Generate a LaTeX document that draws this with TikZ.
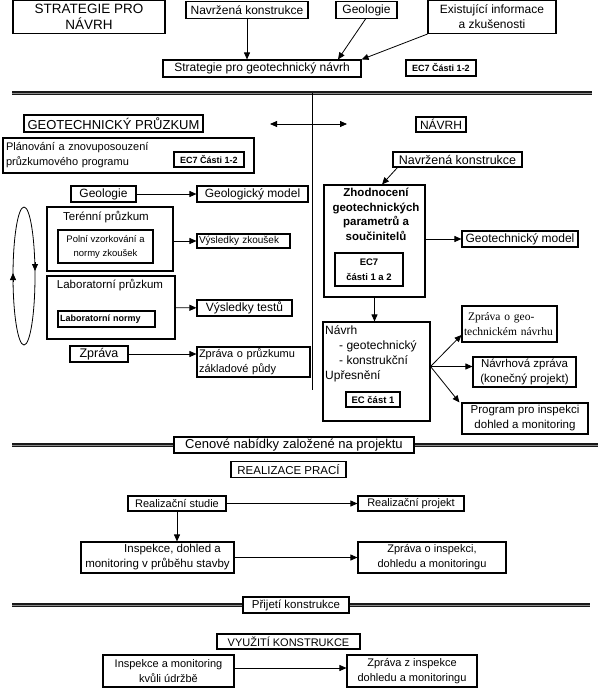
\documentclass[tikz,border=0pt]{standalone}
\usepackage{fontspec}
\setmainfont{Liberation Sans}
\newfontfamily\timesfont{Liberation Serif}
\usetikzlibrary{arrows.meta}

\begin{document}
\begin{tikzpicture}[x=1pt,y=-1pt,
    box/.style={draw, line width=1.1pt, inner sep=1pt, align=center, font=\fontsize{12}{15}\selectfont},
    ecbox/.style={box, font=\fontsize{9}{15}\selectfont\bfseries},
    arr/.style={-{Triangle[length=7pt,width=6pt]}, line width=0.8pt},
    darr/.style={{Triangle[length=7pt,width=6pt]}-{Triangle[length=7pt,width=6pt]}, line width=0.8pt},
    sepline/.style={draw=black!90, double=black!45, double distance=0.9pt, line width=1.1pt}]

    \useasboundingbox (0,0) rectangle (600,688);

    % Strategie pro navrh
    \node[box, minimum width=152pt, minimum height=33pt, font=\fontsize{13.5}{16}\selectfont] (strat) at (89,17) {STRATEGIE PRO\\NÁVRH};
    \node[box, minimum width=122pt, minimum height=17pt] (navtop) at (247,10) {Navržená konstrukce};
    \node[box, minimum width=61pt, minimum height=17pt] (geotop) at (366.5,10) {Geologie};
    \node[box, minimum width=128pt, minimum height=33pt] (exist) at (492,17) {Existující informace\\a zkušenosti};
    \node[box, minimum width=198pt, minimum height=17pt] (stratgeo) at (262,68.5) {Strategie pro geotechnický návrh};
    \node[ecbox, minimum width=70pt, minimum height=16pt] (ec7top) at (441,68) {EC7 Části 1-2};

    \draw[arr] (navtop.south) -- (navtop.south |- stratgeo.north);
    \draw[arr] ([xshift=-1pt]geotop.south) -- ([xshift=76pt]stratgeo.north);
    \draw[arr] (exist.south west) -- (stratgeo.north east);

    % Delici cary
    \coordinate (s1l) at (12,93);
    \coordinate (s1r) at (592,93);
    \coordinate (s1m) at (312,93);
    \coordinate (s1b) at (312,390);
    \draw[sepline] (s1l) -- (s1r);
    \draw[line width=0.8pt] (s1m) -- (s1b);

    % Geotechnicky pruzkum
    \node[box, minimum width=179pt, minimum height=17pt, font=\fontsize{13}{15}\selectfont] (gp) at (113.5,123.5) {GEOTECHNICKÝ PRŮZKUM};
    \node[box, minimum width=50pt, minimum height=15pt] (navrh) at (441,124.5) {NÁVRH};
    \coordinate (lr-l) at (270,124);
    \coordinate (lr-r) at (347,124);
    \draw[darr] (lr-l) -- (lr-r);

    \node[box, minimum width=251pt, minimum height=35pt, text width=245pt, align=left, font=\fontsize{11}{15}\selectfont] (plan) at (128.5,155.5) {Plánování a znovuposouzení\\průzkumového programu};
    \node[ecbox, minimum width=70pt, minimum height=15pt] (ec7plan) at (209,159.5) {EC7 Části 1-2};

    \node[box, minimum width=65pt, minimum height=16pt] (geol) at (103.5,194) {Geologie};
    \node[box, minimum width=111pt, minimum height=16pt] (geolmod) at (252.5,194) {Geologický model};
    \draw[arr] (geol) -- (geolmod);

    \node[box, minimum width=126pt, minimum height=64pt] (ter) at (110,239) {};
    \node[font=\fontsize{11.5}{14}\selectfont] (ter-t) at (106,217) {Terénní průzkum};
    \node[box, font=\fontsize{9.5}{14}\selectfont, minimum width=95pt, minimum height=33pt] (terin) at (105.5,246.5) {Polní vzorkování a\\normy zkoušek};
    \node[box, font=\fontsize{10}{12}\selectfont, minimum width=93pt, minimum height=14pt, text width=89pt, align=left] (vz) at (243.5,241) {Výsledky zkoušek};
    \draw[arr] (vz.west -| ter.east) -- (vz.west);

    \node[box, minimum width=128pt, minimum height=63pt] (lab) at (111,307.5) {};
    \node[font=\fontsize{11.5}{14}\selectfont] (lab-t) at (110,285) {Laboratorní průzkum};
    \node[ecbox, minimum width=97pt, minimum height=16pt, text width=93pt, align=left] (labin) at (106.5,319) {Laboratorní normy};
    \node[box, minimum width=95pt, minimum height=16pt] (vt) at (244.5,308) {Výsledky testů};
    \draw[arr] (lab) -- (vt);

    \node[box, font=\fontsize{12.5}{15}\selectfont, minimum width=58pt, minimum height=16pt] (zpr) at (99,354) {Zpráva};
    \node[box, font=\fontsize{11}{15}\selectfont, minimum width=113pt, minimum height=30pt, text width=109pt, align=left] (zprp) at (253.5,362) {Zpráva o průzkumu\\základové půdy};
    \draw[arr] (zpr.east) -- (zpr.east -| zprp.west);

    % Cyklus
    \coordinate (cyc) at (24,276);
    \draw[line width=0.8pt] (cyc) ellipse [x radius=11pt, y radius=69pt];
    \draw[arr] (35,262) -- (35,271);
    \draw[arr] (13,282) -- (13,273);

    % Navrh
    \node[box, font=\fontsize{12.5}{15}\selectfont, minimum width=129pt, minimum height=15pt] (navr) at (457.5,159.5) {Navržená konstrukce};
    \node[box, minimum width=101pt, minimum height=112pt] (zh) at (374.5,241) {};
    \node[font=\fontsize{11.5}{14.5}\selectfont\bfseries, align=center] (zh-t) at (376,214.5) {Zhodnocení\\geotechnických\\parametrů a\\součinitelů};
    \node[ecbox, font=\fontsize{9.5}{15}\selectfont\bfseries, minimum width=68pt, minimum height=33pt] (zhin) at (369,269.5) {EC7\\části 1 a 2};
    \node[box, minimum width=116pt, minimum height=16pt] (gm) at (520,239) {Geotechnický model};
    \draw[arr] ([xshift=5pt]navr.south west) -- ([xshift=7.5pt]zh.north);
    \draw[arr] (gm.west -| zh.east) -- (gm.west);

    \node[box, minimum width=107pt, minimum height=99pt] (nv) at (376.5,371.5) {};
    \node[anchor=north west, inner sep=0pt, align=left, font=\fontsize{12}{15.3}\selectfont] (nv-t) at (325,325) {Návrh\\\hspace*{14pt}- geotechnický\\\hspace*{14pt}- konstrukční\\Upřesnění};
    \node[ecbox, font=\fontsize{9.5}{12}\selectfont\bfseries, minimum width=54pt, minimum height=15pt] (nvin) at (373,399.5) {EC část 1};
    \draw[arr] (zh.south) -- (zh.south |- nv.north);

    \node[box, font=\timesfont\fontsize{11.5}{15}\selectfont, minimum width=95pt, minimum height=36pt, text width=91pt, align=left] (zgeo) at (509.5,324) {\hspace*{4pt}Zpráva o geo-\\technickém návrhu};
    \node[box, font=\fontsize{11.5}{15}\selectfont, minimum width=103pt, minimum height=30pt] (nz) at (524.5,372) {Návrhová zpráva\\(konečný projekt)};
    \node[box, font=\fontsize{11.5}{15}\selectfont, minimum width=126pt, minimum height=31pt] (prog) at (525,418.5) {Program pro inspekci\\dohled a monitoring};
    \coordinate (nv-o) at ([yshift=5pt]nv.east);
    \draw[arr] (nv-o) -- ([yshift=-11pt]zgeo.west);
    \draw[arr] (nv-o) -- (nv-o -| nz.west);
    \draw[arr] (nv-o) -- ([xshift=-2pt]prog.north west);

    % Realizace praci
    \node[box, font=\fontsize{13}{15}\selectfont, minimum width=240pt, minimum height=16pt] (cen) at (294,445) {Cenové nabídky založené na projektu};
    \coordinate (s2l) at (12,445);
    \coordinate (s2r) at (598,445);
    \draw[sepline] (s2l) -- (cen.west);
    \draw[sepline] (cen.east) -- (s2r);
    \node[box, font=\fontsize{11.5}{14}\selectfont, minimum width=115pt, minimum height=16pt] (real) at (288.5,469.5) {REALIZACE PRACÍ};
    \node[box, font=\fontsize{11}{14}\selectfont, minimum width=98pt, minimum height=15pt] (rs) at (177,503.5) {Realizační studie};
    \node[box, font=\fontsize{11}{14}\selectfont, minimum width=106pt, minimum height=15pt] (rp) at (411,503.5) {Realizační projekt};
    \node[box, font=\fontsize{11.5}{15}\selectfont, minimum width=153pt, minimum height=31pt] (ins) at (157.5,557.5) {\hspace*{30pt}Inspekce, dohled a\\monitoring v průběhu stavby};
    \node[box, font=\fontsize{11}{15}\selectfont, minimum width=148pt, minimum height=31pt] (zi) at (432,557.5) {Zpráva o inspekci,\\dohledu a monitoringu};
    \draw[arr] (rs) -- (rp);
    \draw[arr] (rs.south) -- (rs.south |- ins.north);
    \draw[arr] (ins) -- (zi);

    % Prijeti a vyuziti konstrukce
    \node[box, font=\fontsize{11.5}{14}\selectfont, minimum width=106pt, minimum height=16pt] (pri) at (296,605) {Přijetí konstrukce};
    \coordinate (s3l) at (12,605);
    \coordinate (s3r) at (590,605);
    \draw[sepline] (s3l) -- (pri.west);
    \draw[sepline] (pri.east) -- (s3r);
    \node[box, font=\fontsize{11}{14}\selectfont, minimum width=143pt, minimum height=15pt] (vyu) at (288.5,641.5) {VYUŽITÍ KONSTRUKCE};
    \node[box, font=\fontsize{11}{15}\selectfont, minimum width=131pt, minimum height=32pt] (iam) at (168.5,671) {Inspekce a monitoring\\kvůli údržbě};
    \node[box, font=\fontsize{11}{15}\selectfont, minimum width=130pt, minimum height=32pt] (zzi) at (412,671) {Zpráva z inspekce\\dohledu a monitoringu};
    \draw[arr] ([yshift=3pt]iam.east) -- ([yshift=3pt]zzi.west);

\end{tikzpicture}
\end{document}
